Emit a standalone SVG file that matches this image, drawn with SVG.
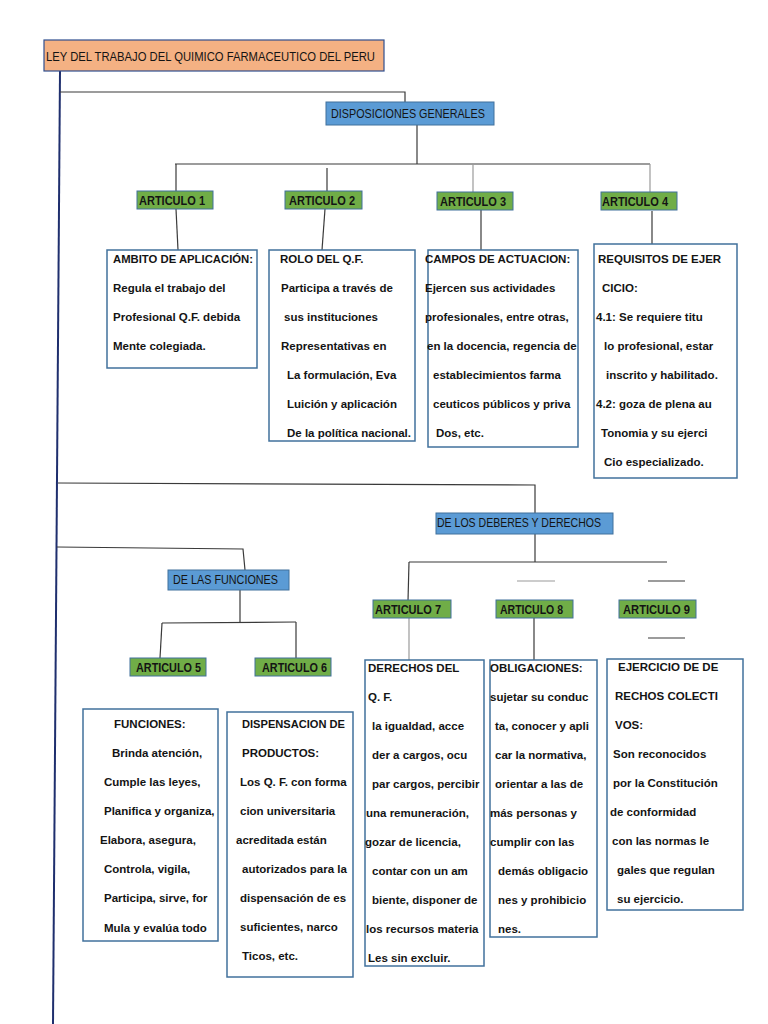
<svg xmlns="http://www.w3.org/2000/svg" width="768" height="1024" viewBox="0 0 768 1024">
<style>
.bg{fill:#ffffff}
.ln{stroke:#3a3a3a;stroke-width:1.2;fill:none}
.lg{stroke:#9a9a9a;stroke-width:1.2;fill:none}
.spine{stroke:#1f2f6e;stroke-width:2;fill:none}
.title{fill:#F4B183;stroke:#2F4F8F;stroke-width:1.2}
.blue{fill:#5B9BD5;stroke:#41719C;stroke-width:1}
.green{fill:#70AD47;stroke:#41719C;stroke-width:1}
.box{fill:#ffffff;stroke:#41719C;stroke-width:1.5}
text{font-family:"Liberation Sans",Arial,sans-serif;fill:#141414}
.h{font-size:13px}
.a{font-size:12px;font-weight:bold}
.t{font-size:11.5px;font-weight:bold}
</style>
<rect class="bg" x="0" y="0" width="768" height="1024"/>

<g id="connectors">
  <line class="spine" x1="60" y1="71" x2="53" y2="1024"/>
  <polyline class="ln" points="60,92 405,92 405,102"/>
  <line class="ln" x1="417" y1="125" x2="417" y2="164"/>
  <line class="ln" x1="175" y1="164" x2="650" y2="164"/>
  <line class="ln" x1="176" y1="164" x2="176" y2="191"/>
  <line class="ln" x1="327" y1="168" x2="327" y2="191"/>
  <line class="lg" x1="473" y1="164" x2="473" y2="192"/>
  <line class="lg" x1="650" y1="164" x2="650" y2="192"/>
  <line class="ln" x1="176" y1="209" x2="178" y2="250"/>
  <line class="ln" x1="325" y1="209" x2="322" y2="250"/>
  <line class="ln" x1="481" y1="210" x2="481" y2="250"/>
  <line class="ln" x1="652" y1="211" x2="652" y2="245"/>

  <polyline class="ln" points="58,483 535,485 535,513"/>
  <polyline class="ln" points="57,547 243,549 245,570"/>
  <line class="ln" x1="240" y1="590" x2="240" y2="623"/>
  <line class="ln" x1="162" y1="623" x2="296" y2="622"/>
  <line class="ln" x1="162" y1="623" x2="160" y2="658"/>
  <line class="ln" x1="296" y1="622" x2="296" y2="660"/>

  <line class="ln" x1="535" y1="534" x2="535" y2="562"/>
  <line class="ln" x1="409" y1="562" x2="667" y2="562"/>
  <line class="ln" x1="409" y1="562" x2="408" y2="601"/>
  <line class="lg" x1="517" y1="581" x2="555" y2="581"/>
  <line class="ln" x1="648" y1="581" x2="685" y2="581"/>
  <line class="ln" x1="648" y1="638" x2="685" y2="638"/>
  <line class="lg" x1="409" y1="618" x2="409" y2="660"/>
  <line class="ln" x1="534" y1="618" x2="534" y2="660"/>
</g>

<g id="title">
  <rect class="title" x="44" y="40" width="340" height="31"/>
  <text class="h" x="46" y="61" textLength="329" lengthAdjust="spacingAndGlyphs">LEY DEL TRABAJO DEL QUIMICO FARMACEUTICO DEL PERU</text>
</g>

<g id="disposiciones">
  <rect class="blue" x="326" y="102" width="168" height="23"/>
  <text class="h" x="331" y="118" textLength="154" lengthAdjust="spacingAndGlyphs">DISPOSICIONES GENERALES</text>
</g>

<g id="art1">
  <rect class="green" x="137" y="191" width="76" height="18"/>
  <text class="a" x="139" y="204.5" textLength="66" lengthAdjust="spacingAndGlyphs">ARTICULO 1</text>
</g>
<g id="art2">
  <rect class="green" x="285" y="191" width="77" height="18"/>
  <text class="a" x="289" y="204.5" textLength="66" lengthAdjust="spacingAndGlyphs">ARTICULO 2</text>
</g>
<g id="art3">
  <rect class="green" x="437" y="192" width="76" height="18"/>
  <text class="a" x="440" y="205.5" textLength="66" lengthAdjust="spacingAndGlyphs">ARTICULO 3</text>
</g>
<g id="art4">
  <rect class="green" x="601" y="192" width="76" height="18"/>
  <text class="a" x="602" y="205.5" textLength="66" lengthAdjust="spacingAndGlyphs">ARTICULO 4</text>
</g>

<g id="box1">
  <rect class="box" x="107" y="250" width="150" height="118"/>
  <text class="t" x="113" y="263" textLength="140" lengthAdjust="spacingAndGlyphs">AMBITO DE APLICACIÓN:</text>
  <text class="t" x="113" y="292">Regula el trabajo del</text>
  <text class="t" x="113" y="321">Profesional Q.F. debida</text>
  <text class="t" x="113" y="350">Mente colegiada.</text>
</g>

<g id="box2">
  <rect class="box" x="269" y="250" width="146" height="191"/>
  <text class="t" x="280" y="263">ROLO DEL Q.F.</text>
  <text class="t" x="281" y="292">Participa a través de</text>
  <text class="t" x="284" y="321">sus instituciones</text>
  <text class="t" x="281" y="350">Representativas en</text>
  <text class="t" x="287" y="379">La formulación, Eva</text>
  <text class="t" x="287" y="408">Luición y aplicación</text>
  <text class="t" x="287" y="437">De la política nacional.</text>
</g>

<g id="box3">
  <rect class="box" x="428" y="250" width="150" height="197"/>
  <text class="t" x="425" y="263">CAMPOS DE ACTUACION:</text>
  <text class="t" x="425" y="292">Ejercen sus actividades</text>
  <text class="t" x="425" y="321">profesionales, entre otras,</text>
  <text class="t" x="427" y="350">en la docencia, regencia de</text>
  <text class="t" x="433" y="379">establecimientos farma</text>
  <text class="t" x="433" y="408">ceuticos públicos y priva</text>
  <text class="t" x="436" y="437">Dos, etc.</text>
</g>

<g id="box4">
  <rect class="box" x="594" y="244" width="143" height="234"/>
  <text class="t" x="598" y="263">REQUISITOS DE EJER</text>
  <text class="t" x="602" y="292">CICIO:</text>
  <text class="t" x="596" y="321">4.1: Se requiere titu</text>
  <text class="t" x="604" y="350">lo profesional, estar</text>
  <text class="t" x="606" y="379">inscrito y habilitado.</text>
  <text class="t" x="596" y="408">4.2: goza de plena au</text>
  <text class="t" x="601" y="437">Tonomia y su ejerci</text>
  <text class="t" x="604" y="466">Cio especializado.</text>
</g>

<g id="deberes">
  <rect class="blue" x="436" y="513" width="177" height="21"/>
  <text class="h" x="437" y="527" textLength="164" lengthAdjust="spacingAndGlyphs">DE LOS DEBERES Y DERECHOS</text>
</g>

<g id="funciones">
  <rect class="blue" x="168" y="570" width="121" height="20"/>
  <text class="h" x="173" y="584" textLength="105" lengthAdjust="spacingAndGlyphs">DE LAS FUNCIONES</text>
</g>

<g id="art5">
  <rect class="green" x="130" y="658" width="76" height="18"/>
  <text class="a" x="136" y="671.5" textLength="65" lengthAdjust="spacingAndGlyphs">ARTICULO 5</text>
</g>
<g id="art6">
  <rect class="green" x="255" y="658" width="76" height="18"/>
  <text class="a" x="262" y="671.5" textLength="65" lengthAdjust="spacingAndGlyphs">ARTICULO 6</text>
</g>
<g id="art7">
  <rect class="green" x="373" y="600" width="78" height="18"/>
  <text class="a" x="375" y="613.5" textLength="66" lengthAdjust="spacingAndGlyphs">ARTICULO 7</text>
</g>
<g id="art8">
  <rect class="green" x="496" y="600" width="77" height="18"/>
  <text class="a" x="500" y="613.5" textLength="63" lengthAdjust="spacingAndGlyphs">ARTICULO 8</text>
</g>
<g id="art9">
  <rect class="green" x="619" y="600" width="77" height="18"/>
  <text class="a" x="623" y="613.5" textLength="67" lengthAdjust="spacingAndGlyphs">ARTICULO 9</text>
</g>

<g id="box5">
  <rect class="box" x="83" y="709" width="135" height="232"/>
  <text class="t" x="114" y="728">FUNCIONES:</text>
  <text class="t" x="112" y="757">Brinda atención,</text>
  <text class="t" x="104" y="786">Cumple las leyes,</text>
  <text class="t" x="104" y="815">Planifica y organiza,</text>
  <text class="t" x="100" y="844">Elabora, asegura,</text>
  <text class="t" x="104" y="873">Controla, vigila,</text>
  <text class="t" x="104" y="902">Participa, sirve, for</text>
  <text class="t" x="104" y="932">Mula y evalúa todo</text>
</g>

<g id="box6">
  <rect class="box" x="227" y="712" width="126" height="265"/>
  <text class="t" x="242" y="728" textLength="103" lengthAdjust="spacingAndGlyphs">DISPENSACION DE</text>
  <text class="t" x="242" y="757">PRODUCTOS:</text>
  <text class="t" x="240" y="786">Los Q. F. con forma</text>
  <text class="t" x="240" y="815">cion universitaria</text>
  <text class="t" x="236" y="844">acreditada están</text>
  <text class="t" x="242" y="873">autorizados para la</text>
  <text class="t" x="240" y="902">dispensación de es</text>
  <text class="t" x="240" y="931">suficientes, narco</text>
  <text class="t" x="242" y="960">Ticos, etc.</text>
</g>

<g id="box7">
  <rect class="box" x="365" y="660" width="119" height="306"/>
  <text class="t" x="368" y="672">DERECHOS DEL</text>
  <text class="t" x="368" y="701">Q. F.</text>
  <text class="t" x="372" y="730">la igualdad, acce</text>
  <text class="t" x="372" y="759">der a cargos, ocu</text>
  <text class="t" x="372" y="788">par cargos, percibir</text>
  <text class="t" x="366" y="817">una remuneración,</text>
  <text class="t" x="365" y="846">gozar de licencia,</text>
  <text class="t" x="372" y="875">contar con un am</text>
  <text class="t" x="372" y="904">biente, disponer de</text>
  <text class="t" x="366" y="933">los recursos materia</text>
  <text class="t" x="368" y="962">Les sin excluir.</text>
</g>

<g id="box8">
  <rect class="box" x="490" y="660" width="107" height="277"/>
  <text class="t" x="490" y="672">OBLIGACIONES:</text>
  <text class="t" x="490" y="701">sujetar su conduc</text>
  <text class="t" x="495" y="730">ta, conocer y apli</text>
  <text class="t" x="495" y="759">car la normativa,</text>
  <text class="t" x="495" y="788">orientar a las de</text>
  <text class="t" x="490" y="817">más personas y</text>
  <text class="t" x="490" y="846">cumplir con las</text>
  <text class="t" x="498" y="875">demás obligacio</text>
  <text class="t" x="498" y="904">nes y prohibicio</text>
  <text class="t" x="498" y="933">nes.</text>
</g>

<g id="box9">
  <rect class="box" x="607" y="659" width="136" height="251"/>
  <text class="t" x="618" y="671">EJERCICIO DE DE</text>
  <text class="t" x="615" y="700">RECHOS COLECTI</text>
  <text class="t" x="615" y="729">VOS:</text>
  <text class="t" x="613" y="758">Son reconocidos</text>
  <text class="t" x="613" y="787">por la Constitución</text>
  <text class="t" x="610" y="816">de conformidad</text>
  <text class="t" x="612" y="845">con las normas le</text>
  <text class="t" x="617" y="874">gales que regulan</text>
  <text class="t" x="617" y="903">su ejercicio.</text>
</g>
</svg>
